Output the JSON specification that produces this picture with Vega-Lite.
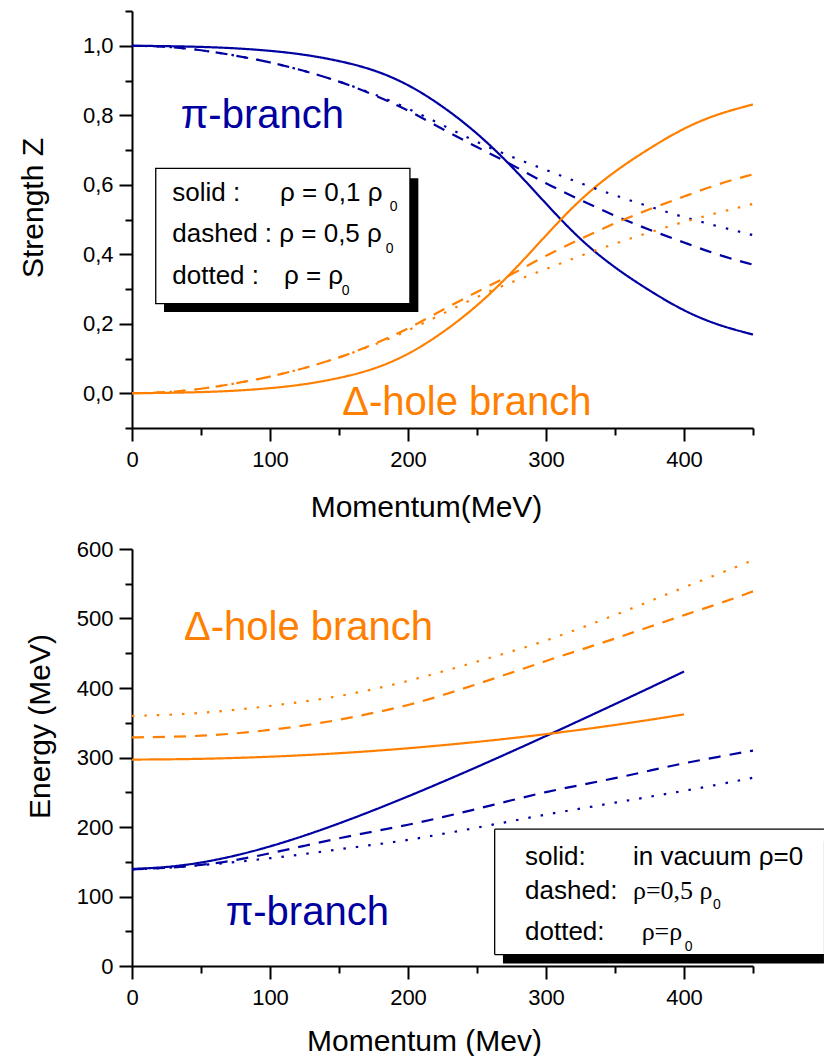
{
  "$schema": "https://vega.github.io/schema/vega-lite/v6.json",
  "padding": {"left": 18, "top": 0, "right": 0, "bottom": 0},
  "background": "white",
  "spacing": 16,
  "config": {
    "view": {"stroke": null},
    "font": "Liberation Sans",
    "axis": {
      "domainColor": "black", "domainWidth": 2, "tickColor": "black", "tickWidth": 2, "tickSize": 13,
      "labelColor": "black", "labelFont": "Liberation Sans", "labelFontSize": 22,
      "titleFont": "Liberation Sans", "titleFontSize": 30, "titleFontWeight": "normal", "titleColor": "black",
      "grid": false, "labelOverlap": false, "labelFlush": false, "labelBound": false
    }
  },
  "datasets": {
    "strength": [
      {"p":0,"z":1.000,"branch":"pi","style":"solid"},{"p":25,"z":0.999,"branch":"pi","style":"solid"},{"p":50,"z":0.997,"branch":"pi","style":"solid"},{"p":75,"z":0.993,"branch":"pi","style":"solid"},{"p":100,"z":0.986,"branch":"pi","style":"solid"},{"p":125,"z":0.975,"branch":"pi","style":"solid"},{"p":150,"z":0.957,"branch":"pi","style":"solid"},{"p":175,"z":0.932,"branch":"pi","style":"solid"},{"p":200,"z":0.890,"branch":"pi","style":"solid"},{"p":225,"z":0.827,"branch":"pi","style":"solid"},{"p":250,"z":0.750,"branch":"pi","style":"solid"},{"p":275,"z":0.655,"branch":"pi","style":"solid"},{"p":300,"z":0.545,"branch":"pi","style":"solid"},{"p":325,"z":0.440,"branch":"pi","style":"solid"},{"p":350,"z":0.360,"branch":"pi","style":"solid"},{"p":375,"z":0.295,"branch":"pi","style":"solid"},{"p":400,"z":0.236,"branch":"pi","style":"solid"},{"p":425,"z":0.195,"branch":"pi","style":"solid"},{"p":450,"z":0.169,"branch":"pi","style":"solid"},
      {"p":0,"z":0.000,"branch":"delta","style":"solid"},{"p":25,"z":0.001,"branch":"delta","style":"solid"},{"p":50,"z":0.003,"branch":"delta","style":"solid"},{"p":75,"z":0.007,"branch":"delta","style":"solid"},{"p":100,"z":0.014,"branch":"delta","style":"solid"},{"p":125,"z":0.025,"branch":"delta","style":"solid"},{"p":150,"z":0.043,"branch":"delta","style":"solid"},{"p":175,"z":0.068,"branch":"delta","style":"solid"},{"p":200,"z":0.110,"branch":"delta","style":"solid"},{"p":225,"z":0.173,"branch":"delta","style":"solid"},{"p":250,"z":0.250,"branch":"delta","style":"solid"},{"p":275,"z":0.345,"branch":"delta","style":"solid"},{"p":300,"z":0.455,"branch":"delta","style":"solid"},{"p":325,"z":0.560,"branch":"delta","style":"solid"},{"p":350,"z":0.640,"branch":"delta","style":"solid"},{"p":375,"z":0.705,"branch":"delta","style":"solid"},{"p":400,"z":0.764,"branch":"delta","style":"solid"},{"p":425,"z":0.805,"branch":"delta","style":"solid"},{"p":450,"z":0.831,"branch":"delta","style":"solid"},
      {"p":0,"z":1.000,"branch":"pi","style":"dashed"},{"p":25,"z":0.998,"branch":"pi","style":"dashed"},{"p":50,"z":0.988,"branch":"pi","style":"dashed"},{"p":75,"z":0.972,"branch":"pi","style":"dashed"},{"p":100,"z":0.953,"branch":"pi","style":"dashed"},{"p":125,"z":0.928,"branch":"pi","style":"dashed"},{"p":150,"z":0.898,"branch":"pi","style":"dashed"},{"p":175,"z":0.860,"branch":"pi","style":"dashed"},{"p":200,"z":0.815,"branch":"pi","style":"dashed"},{"p":225,"z":0.760,"branch":"pi","style":"dashed"},{"p":250,"z":0.708,"branch":"pi","style":"dashed"},{"p":275,"z":0.659,"branch":"pi","style":"dashed"},{"p":300,"z":0.603,"branch":"pi","style":"dashed"},{"p":325,"z":0.556,"branch":"pi","style":"dashed"},{"p":350,"z":0.510,"branch":"pi","style":"dashed"},{"p":375,"z":0.470,"branch":"pi","style":"dashed"},{"p":400,"z":0.434,"branch":"pi","style":"dashed"},{"p":425,"z":0.397,"branch":"pi","style":"dashed"},{"p":450,"z":0.370,"branch":"pi","style":"dashed"},
      {"p":0,"z":0.000,"branch":"delta","style":"dashed"},{"p":25,"z":0.002,"branch":"delta","style":"dashed"},{"p":50,"z":0.012,"branch":"delta","style":"dashed"},{"p":75,"z":0.028,"branch":"delta","style":"dashed"},{"p":100,"z":0.047,"branch":"delta","style":"dashed"},{"p":125,"z":0.072,"branch":"delta","style":"dashed"},{"p":150,"z":0.102,"branch":"delta","style":"dashed"},{"p":175,"z":0.140,"branch":"delta","style":"dashed"},{"p":200,"z":0.185,"branch":"delta","style":"dashed"},{"p":225,"z":0.240,"branch":"delta","style":"dashed"},{"p":250,"z":0.292,"branch":"delta","style":"dashed"},{"p":275,"z":0.341,"branch":"delta","style":"dashed"},{"p":300,"z":0.397,"branch":"delta","style":"dashed"},{"p":325,"z":0.444,"branch":"delta","style":"dashed"},{"p":350,"z":0.490,"branch":"delta","style":"dashed"},{"p":375,"z":0.530,"branch":"delta","style":"dashed"},{"p":400,"z":0.566,"branch":"delta","style":"dashed"},{"p":425,"z":0.603,"branch":"delta","style":"dashed"},{"p":450,"z":0.630,"branch":"delta","style":"dashed"},
      {"p":0,"z":1.000,"branch":"pi","style":"dotted"},{"p":25,"z":0.998,"branch":"pi","style":"dotted"},{"p":50,"z":0.988,"branch":"pi","style":"dotted"},{"p":75,"z":0.972,"branch":"pi","style":"dotted"},{"p":100,"z":0.953,"branch":"pi","style":"dotted"},{"p":125,"z":0.928,"branch":"pi","style":"dotted"},{"p":150,"z":0.898,"branch":"pi","style":"dotted"},{"p":175,"z":0.862,"branch":"pi","style":"dotted"},{"p":200,"z":0.820,"branch":"pi","style":"dotted"},{"p":225,"z":0.772,"branch":"pi","style":"dotted"},{"p":250,"z":0.722,"branch":"pi","style":"dotted"},{"p":275,"z":0.680,"branch":"pi","style":"dotted"},{"p":300,"z":0.643,"branch":"pi","style":"dotted"},{"p":325,"z":0.604,"branch":"pi","style":"dotted"},{"p":350,"z":0.569,"branch":"pi","style":"dotted"},{"p":375,"z":0.537,"branch":"pi","style":"dotted"},{"p":400,"z":0.506,"branch":"pi","style":"dotted"},{"p":425,"z":0.480,"branch":"pi","style":"dotted"},{"p":450,"z":0.455,"branch":"pi","style":"dotted"},
      {"p":0,"z":0.000,"branch":"delta","style":"dotted"},{"p":25,"z":0.002,"branch":"delta","style":"dotted"},{"p":50,"z":0.012,"branch":"delta","style":"dotted"},{"p":75,"z":0.028,"branch":"delta","style":"dotted"},{"p":100,"z":0.047,"branch":"delta","style":"dotted"},{"p":125,"z":0.072,"branch":"delta","style":"dotted"},{"p":150,"z":0.102,"branch":"delta","style":"dotted"},{"p":175,"z":0.138,"branch":"delta","style":"dotted"},{"p":200,"z":0.180,"branch":"delta","style":"dotted"},{"p":225,"z":0.228,"branch":"delta","style":"dotted"},{"p":250,"z":0.278,"branch":"delta","style":"dotted"},{"p":275,"z":0.320,"branch":"delta","style":"dotted"},{"p":300,"z":0.357,"branch":"delta","style":"dotted"},{"p":325,"z":0.396,"branch":"delta","style":"dotted"},{"p":350,"z":0.431,"branch":"delta","style":"dotted"},{"p":375,"z":0.463,"branch":"delta","style":"dotted"},{"p":400,"z":0.494,"branch":"delta","style":"dotted"},{"p":425,"z":0.520,"branch":"delta","style":"dotted"},{"p":450,"z":0.545,"branch":"delta","style":"dotted"}
    ],
    "strengthShadow": [{"p":23.2,"p2":207.5,"z":0.619,"z2":0.234}],
    "strengthBox": [{"p":17.2,"p2":201.4,"z":0.647,"z2":0.258}],
    "strengthNotes": [
      {"p":35.3,"z":0.763,"text":"π-branch","branch":"pi"},
      {"p":152.4,"z":-0.064,"text":"Δ-hole branch","branch":"delta"}
    ],
    "strengthKey": [
      {"p":29.2,"z":0.553,"text":"solid :"},
      {"p":107.2,"z":0.553,"text":"ρ = 0,1 ρ"},
      {"p":29.2,"z":0.434,"text":"dashed : ρ = 0,5 ρ"},
      {"p":29.2,"z":0.313,"text":"dotted :"},
      {"p":110.1,"z":0.313,"text":"ρ = ρ"}
    ],
    "strengthSub": [
      {"p":186.7,"z":0.524,"text":"0"},
      {"p":183.8,"z":0.405,"text":"0"},
      {"p":152.0,"z":0.284,"text":"0"}
    ],
    "energy": [
      {"p":0,"e":139.6,"branch":"pi","style":"solid"},{"p":25,"e":141.8,"branch":"pi","style":"solid"},{"p":50,"e":148.3,"branch":"pi","style":"solid"},{"p":75,"e":158.5,"branch":"pi","style":"solid"},{"p":100,"e":171.7,"branch":"pi","style":"solid"},{"p":125,"e":187.4,"branch":"pi","style":"solid"},{"p":150,"e":204.9,"branch":"pi","style":"solid"},{"p":175,"e":223.9,"branch":"pi","style":"solid"},{"p":200,"e":243.9,"branch":"pi","style":"solid"},{"p":225,"e":264.8,"branch":"pi","style":"solid"},{"p":250,"e":286.3,"branch":"pi","style":"solid"},{"p":275,"e":308.4,"branch":"pi","style":"solid"},{"p":300,"e":330.9,"branch":"pi","style":"solid"},{"p":325,"e":353.7,"branch":"pi","style":"solid"},{"p":350,"e":376.8,"branch":"pi","style":"solid"},{"p":375,"e":400.1,"branch":"pi","style":"solid"},{"p":400,"e":423.7,"branch":"pi","style":"solid"},
      {"p":0,"e":297.0,"branch":"delta","style":"solid"},{"p":25,"e":297.3,"branch":"delta","style":"solid"},{"p":50,"e":298.0,"branch":"delta","style":"solid"},{"p":75,"e":299.3,"branch":"delta","style":"solid"},{"p":100,"e":301.1,"branch":"delta","style":"solid"},{"p":125,"e":303.3,"branch":"delta","style":"solid"},{"p":150,"e":306.1,"branch":"delta","style":"solid"},{"p":175,"e":309.4,"branch":"delta","style":"solid"},{"p":200,"e":313.2,"branch":"delta","style":"solid"},{"p":225,"e":317.6,"branch":"delta","style":"solid"},{"p":250,"e":322.4,"branch":"delta","style":"solid"},{"p":275,"e":327.7,"branch":"delta","style":"solid"},{"p":300,"e":333.5,"branch":"delta","style":"solid"},{"p":325,"e":339.9,"branch":"delta","style":"solid"},{"p":350,"e":346.7,"branch":"delta","style":"solid"},{"p":375,"e":354.1,"branch":"delta","style":"solid"},{"p":400,"e":362.0,"branch":"delta","style":"solid"},
      {"p":0,"e":139,"branch":"pi","style":"dashed"},{"p":25,"e":141,"branch":"pi","style":"dashed"},{"p":50,"e":145,"branch":"pi","style":"dashed"},{"p":75,"e":152,"branch":"pi","style":"dashed"},{"p":100,"e":162,"branch":"pi","style":"dashed"},{"p":125,"e":173,"branch":"pi","style":"dashed"},{"p":150,"e":184,"branch":"pi","style":"dashed"},{"p":175,"e":193.5,"branch":"pi","style":"dashed"},{"p":200,"e":203,"branch":"pi","style":"dashed"},{"p":225,"e":214,"branch":"pi","style":"dashed"},{"p":250,"e":226,"branch":"pi","style":"dashed"},{"p":275,"e":238.5,"branch":"pi","style":"dashed"},{"p":300,"e":250.5,"branch":"pi","style":"dashed"},{"p":325,"e":260.5,"branch":"pi","style":"dashed"},{"p":350,"e":270,"branch":"pi","style":"dashed"},{"p":375,"e":281,"branch":"pi","style":"dashed"},{"p":400,"e":292,"branch":"pi","style":"dashed"},{"p":425,"e":301,"branch":"pi","style":"dashed"},{"p":450,"e":310,"branch":"pi","style":"dashed"},
      {"p":0,"e":139,"branch":"pi","style":"dotted"},{"p":25,"e":141,"branch":"pi","style":"dotted"},{"p":50,"e":145,"branch":"pi","style":"dotted"},{"p":75,"e":149.5,"branch":"pi","style":"dotted"},{"p":100,"e":155,"branch":"pi","style":"dotted"},{"p":125,"e":161,"branch":"pi","style":"dotted"},{"p":150,"e":168,"branch":"pi","style":"dotted"},{"p":175,"e":174.5,"branch":"pi","style":"dotted"},{"p":200,"e":181,"branch":"pi","style":"dotted"},{"p":225,"e":190,"branch":"pi","style":"dotted"},{"p":250,"e":199,"branch":"pi","style":"dotted"},{"p":275,"e":208.5,"branch":"pi","style":"dotted"},{"p":300,"e":218,"branch":"pi","style":"dotted"},{"p":325,"e":226.5,"branch":"pi","style":"dotted"},{"p":350,"e":235,"branch":"pi","style":"dotted"},{"p":375,"e":243.5,"branch":"pi","style":"dotted"},{"p":400,"e":252,"branch":"pi","style":"dotted"},{"p":425,"e":261,"branch":"pi","style":"dotted"},{"p":450,"e":271,"branch":"pi","style":"dotted"},
      {"p":0,"e":329,"branch":"delta","style":"dashed"},{"p":25,"e":329.5,"branch":"delta","style":"dashed"},{"p":50,"e":331,"branch":"delta","style":"dashed"},{"p":75,"e":334.5,"branch":"delta","style":"dashed"},{"p":100,"e":339.5,"branch":"delta","style":"dashed"},{"p":125,"e":346,"branch":"delta","style":"dashed"},{"p":150,"e":354,"branch":"delta","style":"dashed"},{"p":175,"e":364,"branch":"delta","style":"dashed"},{"p":200,"e":375,"branch":"delta","style":"dashed"},{"p":225,"e":389.5,"branch":"delta","style":"dashed"},{"p":250,"e":405.5,"branch":"delta","style":"dashed"},{"p":275,"e":422,"branch":"delta","style":"dashed"},{"p":300,"e":439,"branch":"delta","style":"dashed"},{"p":325,"e":455,"branch":"delta","style":"dashed"},{"p":350,"e":471,"branch":"delta","style":"dashed"},{"p":375,"e":488,"branch":"delta","style":"dashed"},{"p":400,"e":505,"branch":"delta","style":"dashed"},{"p":425,"e":521,"branch":"delta","style":"dashed"},{"p":450,"e":539,"branch":"delta","style":"dashed"},
      {"p":0,"e":360,"branch":"delta","style":"dotted"},{"p":25,"e":361,"branch":"delta","style":"dotted"},{"p":50,"e":364,"branch":"delta","style":"dotted"},{"p":75,"e":368.5,"branch":"delta","style":"dotted"},{"p":100,"e":374,"branch":"delta","style":"dotted"},{"p":125,"e":380.5,"branch":"delta","style":"dotted"},{"p":150,"e":388,"branch":"delta","style":"dotted"},{"p":175,"e":398,"branch":"delta","style":"dotted"},{"p":200,"e":410,"branch":"delta","style":"dotted"},{"p":225,"e":423.5,"branch":"delta","style":"dotted"},{"p":250,"e":438,"branch":"delta","style":"dotted"},{"p":275,"e":452.5,"branch":"delta","style":"dotted"},{"p":300,"e":468,"branch":"delta","style":"dotted"},{"p":325,"e":486,"branch":"delta","style":"dotted"},{"p":350,"e":505,"branch":"delta","style":"dotted"},{"p":375,"e":524.5,"branch":"delta","style":"dotted"},{"p":400,"e":545,"branch":"delta","style":"dotted"},{"p":425,"e":564,"branch":"delta","style":"dotted"},{"p":450,"e":584,"branch":"delta","style":"dotted"}
    ],
    "energyShadow": [{"p":268.8,"p2":501.4,"e":3.5,"e2":180}],
    "energyBox": [{"p":262.8,"p2":501.4,"e":16.4,"e2":196.8}],
    "energyBoxEdges": [
      {"p":262.8,"p2":501.4,"e":196.8,"e2":196.8},
      {"p":262.8,"p2":262.8,"e":16.4,"e2":196.8},
      {"p":262.8,"p2":501.4,"e":16.4,"e2":16.4}
    ],
    "energyNotes": [
      {"p":37.7,"e":469,"text":"Δ-hole branch","branch":"delta"},
      {"p":67.9,"e":58.6,"text":"π-branch","branch":"pi"}
    ],
    "energyKey": [
      {"p":284.8,"e":145,"text":"solid:"},
      {"p":363,"e":145,"text":"in vacuum ρ=0"},
      {"p":284.8,"e":96,"text":"dashed:"},
      {"p":284.8,"e":37,"text":"dotted:"}
    ],
    "energyKeySerif": [
      {"p":363,"e":96,"text":"ρ=0,5 ρ"},
      {"p":369.3,"e":37,"text":"ρ=ρ"}
    ],
    "energySub": [
      {"p":421,"e":82.6,"text":"0"},
      {"p":400.5,"e":21.2,"text":"0"}
    ]
  },
  "vconcat": [
    {
      "width": 621, "height": 417,
      "encoding": {
        "x": {"field": "p", "type": "quantitative",
          "scale": {"domain": [0, 450], "nice": false, "zero": false},
          "axis": {"values": [0,50,100,150,200,250,300,350,400,450],
            "tickDash": {"condition": {"test": "datum.value % 100 === 0", "value": [1, 0]}, "value": [7, 100]},
            "labelExpr": "datum.value % 100 === 0 ? datum.label : ''",
            "labelPadding": 8,
            "title": "Momentum(MeV)", "titleX": 294, "titleY": 88, "titleBaseline": "alphabetic", "titleAlign": "center"}},
        "y": {"field": "z", "type": "quantitative",
          "scale": {"domain": [-0.1, 1.1], "nice": false, "zero": false},
          "axis": {"values": [-0.1,0,0.1,0.2,0.3,0.4,0.5,0.6,0.7,0.8,0.9,1,1.1],
            "tickDash": {"condition": {"test": "indexof([0,0.2,0.4,0.6,0.8,1], datum.value) >= 0", "value": [1, 0]}, "value": [7, 100]},
            "labelExpr": "indexof([0,0.2,0.4,0.6,0.8,1], datum.value) >= 0 ? replace(format(datum.value, '.1f'), '.', ',') : ''",
            "labelPadding": 6,
            "title": "Strength Z", "titleX": -90, "titleY": 196.5, "titleAngle": 270, "titleBaseline": "alphabetic", "titleAlign": "center"}}
      },
      "layer": [
        {"data": {"name": "strengthShadow"}, "mark": {"type": "rect", "color": "black"},
         "encoding": {"x2": {"field": "p2"}, "y2": {"field": "z2"}}},
        {"data": {"name": "strengthBox"}, "mark": {"type": "rect", "fill": "white", "stroke": "black", "strokeWidth": 1.3},
         "encoding": {"x2": {"field": "p2"}, "y2": {"field": "z2"}}},
        {"data": {"name": "strength"}, "mark": {"type": "line", "strokeWidth": 2.2, "interpolate": "basis"},
         "encoding": {
           "color": {"field": "branch", "type": "nominal", "scale": {"domain": ["pi", "delta"], "range": ["#0000A0", "#FF8000"]}, "legend": null},
           "strokeDash": {"field": "style", "type": "nominal", "scale": {"domain": ["solid", "dashed", "dotted"], "range": [[1, 0], [12, 9], [2.5, 10]]}, "legend": null}}},
        {"data": {"name": "strengthNotes"}, "mark": {"type": "text", "align": "left", "baseline": "alphabetic", "fontSize": 40, "font": "Liberation Sans"},
         "encoding": {"text": {"field": "text"}, "color": {"field": "branch", "type": "nominal", "legend": null}}},
        {"data": {"name": "strengthKey"}, "mark": {"type": "text", "align": "left", "baseline": "alphabetic", "fontSize": 26, "font": "Liberation Sans", "color": "black"},
         "encoding": {"text": {"field": "text"}}},
        {"data": {"name": "strengthSub"}, "mark": {"type": "text", "align": "left", "baseline": "alphabetic", "fontSize": 14, "font": "Liberation Sans", "color": "black"},
         "encoding": {"text": {"field": "text"}}}
      ]
    },
    {
      "width": 621, "height": 417,
      "encoding": {
        "x": {"field": "p", "type": "quantitative",
          "scale": {"domain": [0, 450], "nice": false, "zero": false},
          "axis": {"values": [0,50,100,150,200,250,300,350,400,450],
            "tickDash": {"condition": {"test": "datum.value % 100 === 0", "value": [1, 0]}, "value": [7, 100]},
            "labelExpr": "datum.value % 100 === 0 ? datum.label : ''",
            "labelPadding": 8,
            "title": "Momentum (Mev)", "titleX": 292, "titleY": 84, "titleBaseline": "alphabetic", "titleAlign": "center"}},
        "y": {"field": "e", "type": "quantitative",
          "scale": {"domain": [0, 600], "nice": false, "zero": false},
          "axis": {"values": [0,50,100,150,200,250,300,350,400,450,500,550,600],
            "tickDash": {"condition": {"test": "datum.value % 100 === 0", "value": [1, 0]}, "value": [7, 100]},
            "labelExpr": "datum.value % 100 === 0 ? datum.label : ''",
            "labelPadding": 6,
            "title": "Energy (MeV)", "titleX": -83, "titleY": 177, "titleAngle": 270, "titleBaseline": "alphabetic", "titleAlign": "center"}}
      },
      "layer": [
        {"data": {"name": "energyShadow"}, "mark": {"type": "rect", "color": "black"},
         "encoding": {"x2": {"field": "p2"}, "y2": {"field": "e2"}}},
        {"data": {"name": "energyBox"}, "mark": {"type": "rect", "fill": "white"},
         "encoding": {"x2": {"field": "p2"}, "y2": {"field": "e2"}}},
        {"data": {"name": "energyBoxEdges"}, "mark": {"type": "rule", "color": "black", "strokeWidth": 1.3},
         "encoding": {"x2": {"field": "p2"}, "y2": {"field": "e2"}}},
        {"data": {"name": "energy"}, "mark": {"type": "line", "strokeWidth": 2.2, "interpolate": "basis"},
         "encoding": {
           "color": {"field": "branch", "type": "nominal", "scale": {"domain": ["pi", "delta"], "range": ["#0000A0", "#FF8000"]}, "legend": null},
           "strokeDash": {"field": "style", "type": "nominal", "scale": {"domain": ["solid", "dashed", "dotted"], "range": [[1, 0], [12, 9], [2.5, 10]]}, "legend": null}}},
        {"data": {"name": "energyNotes"}, "mark": {"type": "text", "align": "left", "baseline": "alphabetic", "fontSize": 40, "font": "Liberation Sans"},
         "encoding": {"text": {"field": "text"}, "color": {"field": "branch", "type": "nominal", "legend": null}}},
        {"data": {"name": "energyKey"}, "mark": {"type": "text", "align": "left", "baseline": "alphabetic", "fontSize": 26, "font": "Liberation Sans", "color": "black"},
         "encoding": {"text": {"field": "text"}}},
        {"data": {"name": "energyKeySerif"}, "mark": {"type": "text", "align": "left", "baseline": "alphabetic", "fontSize": 26, "font": "Liberation Serif", "color": "black"},
         "encoding": {"text": {"field": "text"}}},
        {"data": {"name": "energySub"}, "mark": {"type": "text", "align": "left", "baseline": "alphabetic", "fontSize": 14, "font": "Liberation Sans", "color": "black"},
         "encoding": {"text": {"field": "text"}}}
      ]
    }
  ]
}
